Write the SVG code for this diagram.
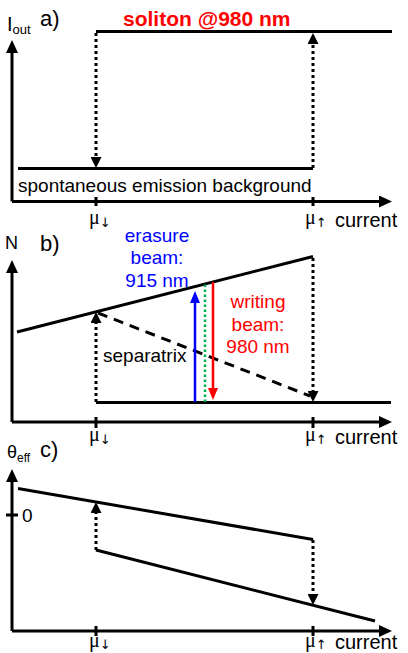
<svg xmlns="http://www.w3.org/2000/svg" width="408" height="653" viewBox="0 0 408 653">
<defs>
<style>
.ax{stroke:#000;stroke-width:3;fill:none}
.ln{stroke:#000;stroke-width:3;fill:none}
.dot{stroke:#000;stroke-width:3;stroke-dasharray:3 3;fill:none}
.dash{stroke:#000;stroke-width:3;stroke-dasharray:10 7;fill:none}
.t{font-family:"Liberation Sans",Arial,sans-serif;fill:#000}
.mu{font-family:"Liberation Serif","DejaVu Serif",serif;fill:#000;font-size:20px}
.ar{font-family:"DejaVu Sans",sans-serif;font-size:13px}
.bl{font-family:"Liberation Sans",Arial,sans-serif;font-size:19px;fill:#0000ff;text-anchor:middle}
.rd{font-family:"Liberation Sans",Arial,sans-serif;font-size:19px;fill:#ff0000;text-anchor:middle}
</style>
<marker id="axh" markerUnits="userSpaceOnUse" markerWidth="13" markerHeight="12" refX="0" refY="6" orient="auto"><path d="M0,0 L13,6 L0,12 Z" fill="#000"/></marker>
<marker id="dh" markerUnits="userSpaceOnUse" markerWidth="11" markerHeight="11" refX="0" refY="5.5" orient="auto"><path d="M0,0 L11,5.5 L0,11 Z" fill="#000"/></marker>
<marker id="bh" markerUnits="userSpaceOnUse" markerWidth="12" markerHeight="10" refX="0" refY="5" orient="auto"><path d="M0,0 L12,5 L0,10 Z" fill="#0000ff"/></marker>
<marker id="rh" markerUnits="userSpaceOnUse" markerWidth="12" markerHeight="10" refX="0" refY="5" orient="auto"><path d="M0,0 L12,5 L0,10 Z" fill="#ff0000"/></marker>
</defs>

<g id="panel-a">
<text class="t" x="7" y="31" font-size="20">I<tspan font-size="13" dy="3">out</tspan></text>
<text class="t" x="40" y="26" font-size="22">a)</text>
<text x="123" y="26" font-family="Liberation Sans,Arial,sans-serif" font-weight="bold" font-size="21" fill="#ff0000">soliton @980 nm</text>
<path class="ax" d="M12,201.5 V53" marker-end="url(#axh)"/>
<path class="ax" d="M12,201.5 H379" marker-end="url(#axh)"/>
<path class="ln" d="M96,197 V206 M313,197 V206"/>
<path class="ln" d="M96,31.5 H392"/>
<path class="ln" d="M18,168.5 H313"/>
<text class="t" x="18" y="192" font-size="19">spontaneous emission background</text>
<text class="mu" x="89" y="224">μ<tspan class="ar" dy="3">↓</tspan></text>
<text class="mu" x="305" y="224">μ<tspan class="ar" dy="3">↑</tspan></text>
<text class="t" x="335" y="227" font-size="20">current</text>
</g>

<g id="panel-b">
<text class="t" x="5" y="249" font-size="18">N</text>
<text class="t" x="40" y="251" font-size="22">b)</text>
<path class="ax" d="M12,422 V273" marker-end="url(#axh)"/>
<path class="ax" d="M12,422 H379" marker-end="url(#axh)"/>
<path class="ln" d="M96,417 V428 M313,417 V428"/>
<path class="ln" d="M17,332 L313,256.5"/>
<path class="ln" d="M96,402.5 H391"/>
<path class="dash" d="M98,313 L310,396"/>
<text class="bl" x="157" y="242">erasure</text>
<text class="bl" x="157" y="264">beam:</text>
<text class="bl" x="157" y="287">915 nm</text>
<text class="rd" x="258" y="308">writing</text>
<text class="rd" x="258" y="331">beam:</text>
<text class="rd" x="258" y="353">980 nm</text>
<text class="t" x="103" y="362" font-size="19">separatrix</text>
<path d="M195,402 V303" stroke="#0000ff" stroke-width="2.5" fill="none" marker-end="url(#bh)"/>
<path d="M205,402 V284" stroke="#00b050" stroke-width="2.5" stroke-dasharray="2.5 2.5" fill="none"/>
<path d="M213,282 V388" stroke="#ff0000" stroke-width="2.5" fill="none" marker-end="url(#rh)"/>
<text class="mu" x="89" y="441">μ<tspan class="ar" dy="3">↓</tspan></text>
<text class="mu" x="305" y="441">μ<tspan class="ar" dy="3">↑</tspan></text>
<text class="t" x="335" y="444" font-size="20">current</text>
</g>

<g id="panel-c">
<text class="t" x="7" y="458" font-size="18">θ<tspan font-size="12" dy="4">eff</tspan></text>
<text class="t" x="40" y="457" font-size="22">c)</text>
<path class="ax" d="M12,631 V482" marker-end="url(#axh)"/>
<path class="ax" d="M12,631 H379" marker-end="url(#axh)"/>
<path class="ln" d="M6,515 H18"/>
<text class="t" x="22" y="522" font-size="19">0</text>
<path class="ln" d="M96,626 V636 M313,626 V636"/>
<path class="ln" d="M18,488.5 L313,539.5"/>
<path class="ln" d="M96,550 L375,621"/>
<text class="mu" x="89" y="647">μ<tspan class="ar" dy="2">↓</tspan></text>
<text class="mu" x="305" y="647">μ<tspan class="ar" dy="2">↑</tspan></text>
<text class="t" x="335" y="649" font-size="20">current</text>
</g>

<g id="connectors">
<path class="dot" d="M96,33 V157" marker-end="url(#dh)"/>
<path class="dot" d="M313,168 V44" marker-end="url(#dh)"/>
<path class="dot" d="M96,402 V323" marker-end="url(#dh)"/>
<path class="dot" d="M313,258 V391" marker-end="url(#dh)"/>
<path class="dot" d="M96,550 V513" marker-end="url(#dh)"/>
<path class="dot" d="M313,540 V594" marker-end="url(#dh)"/>
</g>
</svg>
